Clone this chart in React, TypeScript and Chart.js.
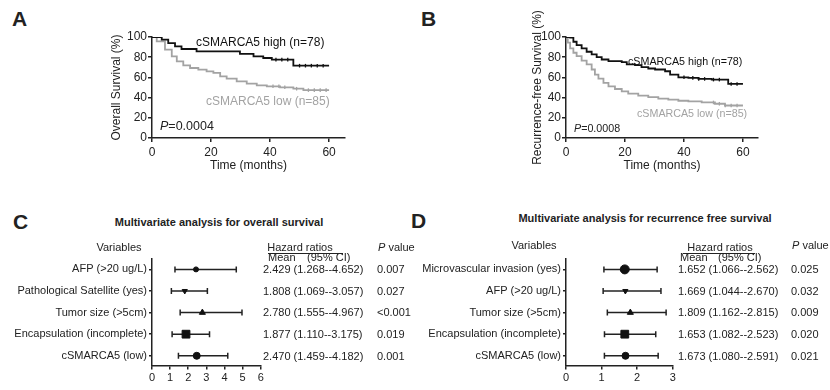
import React, { useEffect, useRef } from 'react';
import { Chart, registerables } from 'chart.js';
Chart.register(...registerables);

const FONT = 'Arial, "Liberation Sans", Helvetica, sans-serif';
const INK = '#222';
const BLACK = '#111';
const GREY = '#a3a3a3';

// ---------- Kaplan-Meier data (months, survival %) ----------
const kmXTicks = [0, 20, 40, 60];
const kmYTicks = [0, 20, 40, 60, 80, 100];

const osHighTime = [0, 3.3, 5.5, 7.8, 10, 15.1, 29.8, 34.4, 37.7, 40.6, 47.9, 60];
const osHighSurv = [100, 97.4, 94, 90.8, 88.1, 85.8, 83.2, 80.9, 79.2, 77.6, 71.6, 71.6];
const osHighCensor = [42, 44, 46, 50, 52, 54, 56, 58];
const osLowTime = [0, 1.6, 4.4, 6.7, 8.4, 10.6, 12.9, 15.7, 18.5, 20.8, 23.1, 25.3, 28.7, 32.1, 35.5, 38.9, 43.4, 47.9, 51.3, 60];
const osLowSurv = [100, 95.7, 87.5, 80.9, 75.9, 71.9, 69.3, 67.7, 66.0, 64.4, 61.1, 58.7, 56.1, 53.8, 52.1, 51.2, 50.2, 48.8, 47.4, 47.4];
const osLowCensor = [41, 43, 45, 49, 53, 55, 57, 59];

const rfsHighTime = [0, 1.4, 2.5, 3.6, 5.3, 7.0, 8.7, 10.4, 12.1, 14.4, 18.9, 20.6, 23.4, 25.6, 27.9, 30.2, 33.6, 35.3, 38.1, 41.5, 44.9, 49.4, 55.0, 60];
const rfsHighSurv = [100, 99.3, 95.3, 92.0, 88.7, 85.4, 82.7, 80.1, 77.7, 76.1, 75.1, 72.8, 72.1, 70.1, 68.8, 67.8, 66.1, 62.8, 60.1, 59.5, 58.5, 57.8, 53.5, 53.5];
const rfsHighCensor = [40, 43, 45, 47, 50, 52, 56, 58];
const rfsLowTime = [0, 0.6, 1.4, 2.5, 3.6, 5.3, 7.0, 8.7, 9.8, 11.0, 12.7, 14.4, 16.6, 18.9, 21.1, 24.5, 27.9, 31.3, 34.7, 38.1, 41.5, 46.0, 50.5, 53.9, 60];
const rfsLowSurv = [100, 94.4, 88.7, 84.4, 81.1, 76.7, 72.8, 67.8, 62.8, 58.8, 54.5, 51.2, 48.5, 46.2, 43.9, 41.9, 40.5, 38.9, 37.9, 36.9, 36.2, 35.2, 33.9, 32.2, 32.2];
const rfsLowCensor = [50, 52, 54, 56, 58];

// ---------- Forest plot data ----------
const osVars = ['AFP (>20 ug/L)', 'Pathological Satellite (yes)', 'Tumor size (>5cm)', 'Encapsulation (incomplete)', 'cSMARCA5 (low)'];
const osMean = [2.429, 1.808, 2.78, 1.877, 2.47];
const osLow = [1.268, 1.069, 1.555, 1.11, 1.459];
const osHigh = [4.652, 3.057, 4.967, 3.175, 4.182];
const osP = ['0.007', '0.027', '<0.001', '0.019', '0.001'];
const osXTicks = [0, 1, 2, 3, 4, 5, 6];

const rfsVars = ['Microvascular invasion (yes)', 'AFP (>20 ug/L)', 'Tumor size (>5cm)', 'Encapsulation (incomplete)', 'cSMARCA5 (low)'];
const rfsMean = [1.652, 1.669, 1.809, 1.653, 1.673];
const rfsLow = [1.066, 1.044, 1.162, 1.082, 1.08];
const rfsHigh = [2.562, 2.67, 2.815, 2.523, 2.591];
const rfsP = ['0.025', '0.032', '0.009', '0.020', '0.021'];
const rfsXTicks = [0, 1, 2, 3];

// marker styles (not data)
const osMarkers = [
  { style: 'circle', r: 2.5, rot: 0 },
  { style: 'triangle', r: 3, rot: 180 },
  { style: 'triangle', r: 3.5, rot: 0 },
  { style: 'rect', r: 5.5, rot: 0 },
  { style: 'circle', r: 3.5, rot: 0 },
];
const rfsMarkers = [
  { style: 'circle', r: 4.5, rot: 0 },
  { style: 'triangle', r: 3, rot: 180 },
  { style: 'triangle', r: 3.5, rot: 0 },
  { style: 'rect', r: 5.5, rot: 0 },
  { style: 'circle', r: 3.5, rot: 0 },
];

// ---------- helpers ----------
const stepData = (t: number[], s: number[]) => t.map((x, i) => ({ x, y: s[i] }));
const survAt = (t: number[], s: number[], x: number) => {
  let v = s[0];
  for (let i = 0; i < t.length; i++) if (t[i] <= x) v = s[i];
  return v;
};
const censorData = (t: number[], s: number[], c: number[]) => c.map((x) => ({ x, y: survAt(t, s, x) }));
const hrText = (m: number, l: number, h: number) => `${m.toFixed(3)} (${l.toFixed(3)}--${h.toFixed(3)})`;

const gridStyle = { display: true, drawOnChartArea: false, drawTicks: true, tickLength: 4, color: INK, lineWidth: 1.5 };
const borderStyle = { display: true, color: INK, width: 1.5 };

function kmConfig(g: any) {
  const font = { family: FONT, size: 12 };
  return {
    type: 'line',
    data: {
      datasets: [
        { data: stepData(g.lowT, g.lowS), borderColor: GREY, borderWidth: 1.8, stepped: 'before', pointRadius: 0, fill: false, order: 2 },
        { data: censorData(g.lowT, g.lowS, g.lowC), showLine: false, pointStyle: 'line', pointRotation: 90, pointRadius: 1.8, pointBorderColor: GREY, pointBorderWidth: 1.3, order: 2 },
        { data: stepData(g.highT, g.highS), borderColor: BLACK, borderWidth: 1.8, stepped: 'before', pointRadius: 0, fill: false, order: 1 },
        { data: censorData(g.highT, g.highS, g.highC), showLine: false, pointStyle: 'line', pointRotation: 90, pointRadius: 1.8, pointBorderColor: BLACK, pointBorderWidth: 1.3, order: 1 },
      ],
    },
    options: {
      animation: false,
      responsive: false,
      events: [],
      layout: { padding: { left: g.padL, top: 37, right: g.padR, bottom: 0 } },
      plugins: { legend: { display: false }, tooltip: { enabled: false } },
      scales: {
        x: {
          type: 'linear', min: 0, max: g.xMax,
          afterBuildTicks: (s: any) => { s.ticks = kmXTicks.map((v) => ({ value: v })); },
          afterFit: (s: any) => { s.height = 39; },
          ticks: { font, color: INK, padding: 3, maxRotation: 0, autoSkip: false },
          grid: gridStyle, border: borderStyle,
          title: { display: true, text: 'Time (months)', font, color: INK, padding: { top: 0, bottom: 4 } },
        },
        y: {
          type: 'linear', min: 0, max: 100,
          afterBuildTicks: (s: any) => { s.ticks = kmYTicks.map((v) => ({ value: v })); },
          afterFit: (s: any) => { s.width = g.yW; },
          ticks: { font, color: INK, padding: 1, autoSkip: false },
          grid: gridStyle, border: borderStyle,
          title: { display: true, text: g.yTitle, font, color: INK, padding: { top: 4, bottom: 0 } },
        },
      },
    },
  };
}

const F_TOP = 258;
const F_BOTTOM = 365.5;
const F_YMIN = -0.5;
const F_YMAX = 4.45;
const rowY = (i: number) => F_TOP + ((i - F_YMIN) / (F_YMAX - F_YMIN)) * (F_BOTTOM - F_TOP);

function forestConfig(g: any) {
  const font = { family: FONT, size: 11 };
  const ci = g.vars.map((_: string, i: number) => ({
    data: [{ x: g.lo[i], y: i }, { x: g.hi[i], y: i }],
    showLine: true, borderColor: INK, borderWidth: 1.5,
    pointStyle: 'line', pointRotation: 90, pointRadius: 3, pointBorderWidth: 1.5,
    pointBorderColor: INK, pointBackgroundColor: INK, order: 2,
  }));
  const means = {
    data: g.mean.map((m: number, i: number) => ({ x: m, y: i })),
    showLine: false,
    pointStyle: g.markers.map((m: any) => m.style),
    pointRadius: g.markers.map((m: any) => m.r),
    pointRotation: g.markers.map((m: any) => m.rot),
    pointBackgroundColor: BLACK, pointBorderColor: BLACK, pointBorderWidth: 1, order: 0,
  };
  return {
    type: 'scatter',
    data: { datasets: [means, ...ci] },
    options: {
      animation: false,
      responsive: false,
      events: [],
      layout: { padding: { left: 0, top: F_TOP - 250, right: g.padR, bottom: 0 } },
      plugins: { legend: { display: false }, tooltip: { enabled: false } },
      scales: {
        x: {
          type: 'linear', min: 0, max: g.xMax,
          afterBuildTicks: (s: any) => { s.ticks = g.xTicks.map((v: number) => ({ value: v })); },
          afterFit: (s: any) => { s.height = 140 - (F_BOTTOM - 250); },
          ticks: { font, color: INK, padding: 2, maxRotation: 0, autoSkip: false },
          grid: { ...gridStyle, tickLength: 4 }, border: borderStyle,
        },
        y: {
          type: 'linear', min: F_YMIN, max: F_YMAX, reverse: true,
          afterBuildTicks: (s: any) => { s.ticks = g.vars.map((_: string, i: number) => ({ value: i })); },
          afterFit: (s: any) => { s.width = g.yW; },
          ticks: { font, color: INK, padding: 2, autoSkip: false, callback: (v: number) => g.vars[v] },
          grid: { ...gridStyle, tickLength: 3 }, border: borderStyle,
        },
      },
    },
  };
}

function ChartCanvas({ left, top, width, height, make }: any) {
  const ref = useRef<HTMLCanvasElement>(null);
  useEffect(() => {
    const c = new Chart(ref.current as HTMLCanvasElement, make() as any);
    return () => c.destroy();
  }, []);
  return <canvas ref={ref} width={width} height={height} style={{ position: 'absolute', left, top, width, height }} />;
}

function T({ x, y, size = 11, bold = false, italic = false, color = INK, align = 'left', children }: any) {
  const tx = align === 'left' ? '0' : align === 'center' ? '-50%' : '-100%';
  return (
    <div style={{ position: 'absolute', left: x, top: y, transform: `translate(${tx}, -50%)`, fontSize: size, lineHeight: 1, fontFamily: FONT, fontWeight: bold ? 'bold' : 'normal', fontStyle: italic ? 'italic' : 'normal', color, whiteSpace: 'nowrap' }}>
      {children}
    </div>
  );
}

export default function App() {
  return (
    <div style={{ position: 'absolute', left: 0, top: 0, width: 830, height: 390, background: '#fff', overflow: 'hidden' }}>
      {/* Panel A */}
      <ChartCanvas left={100} top={0} width={260} height={177}
        make={() => kmConfig({ highT: osHighTime, highS: osHighSurv, highC: osHighCensor, lowT: osLowTime, lowS: osLowSurv, lowC: osLowCensor, padL: 5, yW: 47, padR: 15, xMax: 65.4, yTitle: 'Overall Survival (%)' })} />
      <T x={12} y={18} size={21} bold>A</T>
      <T x={196} y={42} size={12} color={BLACK}>cSMARCA5 high (n=78)</T>
      <T x={206} y={101} size={12} color={GREY}>cSMARCA5 low (n=85)</T>
      <T x={160} y={126} size={12.5}><i>P</i>=0.0004</T>

      {/* Panel B */}
      <ChartCanvas left={514} top={0} width={260} height={177}
        make={() => kmConfig({ highT: rfsHighTime, highS: rfsHighSurv, highC: rfsHighCensor, lowT: rfsLowTime, lowS: rfsLowSurv, lowC: rfsLowCensor, padL: 12, yW: 40, padR: 16, xMax: 65.1, yTitle: 'Recurrence-free Survival (%)' })} />
      <T x={421} y={18} size={21} bold>B</T>
      <T x={628} y={61} size={10.7} color={BLACK}>cSMARCA5 high (n=78)</T>
      <T x={637} y={113} size={10.7} color={GREY}>cSMARCA5 low (n=85)</T>
      <T x={574} y={128} size={10.7}><i>P</i>=0.0008</T>

      {/* Panel C */}
      <ChartCanvas left={0} top={250} width={275} height={140}
        make={() => forestConfig({ vars: osVars, mean: osMean, lo: osLow, hi: osHigh, markers: osMarkers, xMax: 6, xTicks: osXTicks, yW: 152, padR: 14.3 })} />
      <T x={13} y={221} size={21} bold>C</T>
      <T x={219} y={222} size={11} bold align="center">Multivariate analysis for overall survival</T>
      <T x={119} y={247} align="center">Variables</T>
      <T x={300} y={247} align="center">Hazard ratios</T>
      <div style={{ position: 'absolute', left: 268, top: 253, width: 75, height: 1.2, background: INK }} />
      <T x={268} y={257}>Mean</T>
      <T x={307} y={257}>(95% CI)</T>
      <T x={378} y={247}><i>P</i> value</T>
      {osMean.map((m, i) => <T key={'oh' + i} x={263} y={rowY(i)}>{hrText(m, osLow[i], osHigh[i])}</T>)}
      {osP.map((p, i) => <T key={'op' + i} x={377} y={rowY(i)}>{p}</T>)}

      {/* Panel D */}
      <ChartCanvas left={410} top={250} width={275} height={140}
        make={() => forestConfig({ vars: rfsVars, mean: rfsMean, lo: rfsLow, hi: rfsHigh, markers: rfsMarkers, xMax: 3, xTicks: rfsXTicks, yW: 156, padR: 12.3 })} />
      <T x={411} y={220} size={21} bold>D</T>
      <T x={645} y={218} size={11} bold align="center">Multivariate analysis for recurrence free survival</T>
      <T x={534} y={245} align="center">Variables</T>
      <T x={720} y={247} align="center">Hazard ratios</T>
      <div style={{ position: 'absolute', left: 683, top: 253, width: 72, height: 1.2, background: INK }} />
      <T x={680} y={257}>Mean</T>
      <T x={718} y={257}>(95% CI)</T>
      <T x={792} y={245}><i>P</i> value</T>
      {rfsMean.map((m, i) => <T key={'rh' + i} x={678} y={rowY(i)}>{hrText(m, rfsLow[i], rfsHigh[i])}</T>)}
      {rfsP.map((p, i) => <T key={'rp' + i} x={791} y={rowY(i)}>{p}</T>)}
    </div>
  );
}
